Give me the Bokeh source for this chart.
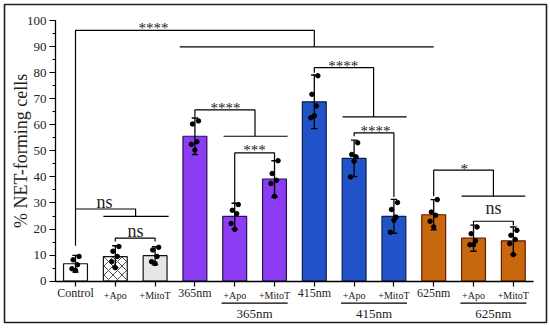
import math
from bokeh.plotting import figure
from bokeh.models import Range1d, FixedTicker, SingleIntervalTicker, ColumnDataSource
from bokeh.core.properties import value
from bokeh.embed import file_html
from bokeh.resources import INLINE

# ---------------- data ----------------
categories = ["Control", "+Apo", "+MitoT", "365nm", "+Apo", "+MitoT",
              "415nm", "+Apo", "+MitoT", "625nm", "+Apo", "+MitoT"]
means = [6.7, 9.4, 9.8, 55.6, 24.9, 39.2, 68.8, 47.1, 24.9, 25.5, 16.5, 15.5]
sds = [3.2, 4.2, 3.5, 7.0, 5.0, 7.0, 10.3, 7.0, 6.5, 5.8, 5.0, 5.3]
points = [
    [9.5, 8.2, 6.3, 4.8, 4.1],
    [13.3, 11.5, 9.5, 7.5, 5.2],
    [13.0, 12.0, 9.5, 7.5, 6.8],
    [61.5, 60.3, 53.5, 52.5, 50.3],
    [29.4, 27.2, 25.9, 22.1, 19.9],
    [46.2, 41.3, 38.7, 37.5, 32.6],
    [78.8, 71.7, 67.2, 62.7, 63.5],
    [53.1, 48.6, 47.7, 40.0, 46.0],
    [30.2, 27.5, 24.6, 18.8, 23.4],
    [31.3, 26.5, 25.3, 23.0, 20.8],
    [20.8, 18.2, 15.5, 14.0, 14.0],
    [19.5, 17.6, 16.0, 14.4, 10.2],
]
group_labels = ["365nm", "415nm", "625nm"]
big_labels = {"Control", "365nm", "415nm", "625nm"}
y_title = "% NET-forming cells"

# ---------------- styles ----------------
FONT = "Liberation Serif"
TXT = "#222222"
fill_colors = ["#ffffff", "#ffffff", "#e6e6e6",
               "#8c3cf2", "#8c3cf2", "#8c3cf2",
               "#2152c8", "#2152c8", "#2152c8",
               "#c8680e", "#c8680e", "#c8680e"]
line_colors = ["#111111"] * 3 + ["#2a1050"] * 3 + ["#0d1f50"] * 3 + ["#6a1a00"] * 3
hatches = [" ", "x", " ", " ", " ", " ", " ", " ", " ", " ", " ", " "]
jitter = [0.09, -0.06, 0.05, -0.09, 0.0]

xs = list(range(1, len(categories) + 1))

p = figure(width=548, height=326, x_range=Range1d(-0.784, 12.834),
           y_range=Range1d(-15.84, 106.14),
           output_backend="svg", toolbar_location=None,
           min_border_left=4, min_border_right=2, min_border_top=4, min_border_bottom=4)
p.outline_line_color = "#202020"
p.outline_line_width = 1.6
p.xgrid.visible = False
p.ygrid.visible = False
p.background_fill_color = "white"

# bars
src = ColumnDataSource(dict(x=xs, top=means, fill=fill_colors, line=line_colors, hatch=hatches))
p.vbar(x="x", top="top", width=0.6, source=src, fill_color="fill", line_color="line",
       line_width=1.2, hatch_pattern="hatch", hatch_color="#222222", hatch_scale=9,
       hatch_weight=0.8)

# error bars
lo = [m - s for m, s in zip(means, sds)]
hi = [m + s for m, s in zip(means, sds)]
p.segment(x0=xs, y0=lo, x1=xs, y1=hi, line_color="black", line_width=1.3)
cap = 0.08
p.segment(x0=[x - cap for x in xs], y0=hi, x1=[x + cap for x in xs], y1=hi,
          line_color="black", line_width=1.3)
p.segment(x0=[x - cap for x in xs], y0=lo, x1=[x + cap for x in xs], y1=lo,
          line_color="black", line_width=1.3)

# individual points
px, py = [], []
for x, vals in zip(xs, points):
    for j, v in zip(jitter, vals):
        px.append(x + j)
        py.append(v)
p.scatter(px, py, marker="circle", size=4.5, color="black")

# significance brackets
brackets = [
    ([1, 1, 7, 7], [13.6, 96.2, 96.2, 89.9]),
    ([3.62, 10.0], [89.9, 89.9]),
    ([1, 2.51, 2.51], [27.7, 27.7, 24.9]),
    ([1.70, 3.34], [24.9, 24.9]),
    ([2, 2, 3, 3], [15.2, 16.5, 16.5, 15.2]),
    ([4, 4, 5.51, 5.51], [62.9, 65.7, 65.7, 55.6]),
    ([4.72, 6.33], [55.6, 55.6]),
    ([5, 5, 6, 6], [29.9, 49.2, 49.2, 46.4]),
    ([7, 7, 8.49, 8.49], [80.0, 81.9, 81.9, 63.0]),
    ([7.71, 9.32], [63.0, 63.0]),
    ([8, 8, 9, 9], [55.6, 56.9, 56.9, 32.3]),
    ([10, 10, 11.5, 11.5], [32.6, 42.6, 42.6, 32.6]),
    ([10.7, 12.3], [32.6, 32.6]),
    ([11, 11, 12, 12], [21.4, 23.0, 23.0, 21.4]),
]
p.multi_line([b[0] for b in brackets], [b[1] for b in brackets], line_color="black", line_width=1.2)

sig_text = ["****", "ns", "ns", "****", "***", "****", "****", "*", "ns"]
sig_x = [2.96, 1.73, 2.51, 4.77, 5.5, 7.73, 8.54, 10.77, 11.5]
sig_y = [97.0, 30.3, 19.4, 66.5, 50.2, 82.6, 57.8, 43.2, 27.9]
sizes = ["15px" if t.startswith("*") else "18px" for t in sig_text]
p.text(x=sig_x, y=sig_y, text=sig_text, text_font=value(FONT), text_font_size=sizes,
       text_align="center", text_baseline="middle", text_color=TXT)

# axes placed at data positions inside the frame
ya = p.yaxis[0]
ya.fixed_location = 0.5
ya.bounds = (0, 100)
ya.ticker = SingleIntervalTicker(interval=10, num_minor_ticks=2)
ya.major_tick_out = 6
ya.major_tick_in = 0
ya.minor_tick_out = 3
ya.minor_tick_in = 0
ya.major_label_text_font = FONT
ya.major_label_text_font_size = "13px"
ya.major_label_text_color = TXT
ya.major_label_standoff = 3
ya.axis_line_width = 1.3
ya.major_tick_line_width = 1.2
ya.minor_tick_line_width = 1.0

xa = p.xaxis[0]
xa.fixed_location = 0
xa.bounds = (0.5, 12.5)
xa.ticker = FixedTicker(ticks=xs)
xa.major_label_overrides = {x: ("" if c in big_labels else c) for x, c in zip(xs, categories)}
xa.major_tick_out = 5
xa.major_tick_in = 0
xa.minor_tick_out = 0
xa.minor_tick_in = 0
xa.major_label_text_font = FONT
xa.major_label_text_font_size = "10px"
xa.major_label_text_color = TXT
xa.major_label_standoff = 4
xa.axis_line_width = 1.3
xa.major_tick_line_width = 1.2

# larger category labels
bx = [x for x, c in zip(xs, categories) if c in big_labels]
bt = [c for c in categories if c in big_labels]
p.text(x=bx, y=[-4.7] * len(bx), text=bt, text_font=value(FONT), text_font_size="12px",
       text_align="center", text_baseline="middle", text_color=TXT)

# group labels under the x axis
gc = [5.5 + 3 * i for i in range(len(group_labels))]
p.multi_line([[c - 0.83, c + 0.83] for c in gc], [[-8.4, -8.4] for _ in gc],
             line_color="black", line_width=1.2)
p.text(x=gc, y=[-12.4] * len(gc), text=group_labels, text_font=value(FONT),
       text_font_size="13px", text_align="center", text_baseline="middle", text_color=TXT)

# y axis title
p.text(x=[-0.38], y=[50], text=[y_title], angle=math.pi / 2, text_font=value(FONT),
       text_font_size="18px", text_align="center", text_baseline="middle", text_color=TXT)

open("out.html", "w").write(file_html(p, INLINE))
